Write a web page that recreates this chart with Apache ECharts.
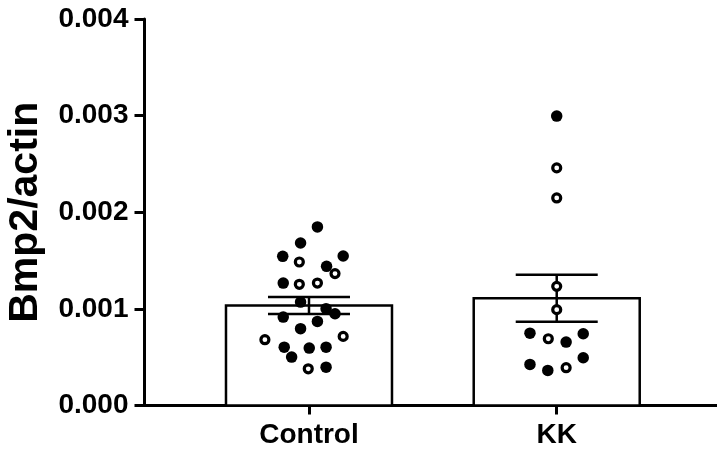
<!DOCTYPE html>
<html>
<head>
<meta charset="utf-8">
<script src="https://cdn.jsdelivr.net/npm/echarts@6/dist/echarts.min.js"></script>
<style>
  html, body { margin: 0; padding: 0; background: #fff; }
  #chart { width: 717px; height: 459px; }
</style>
</head>
<body>
<div id="chart"></div>
<script>
// groups on the x axis (position = index + 1)
var categories = ['Control', 'KK'];
var means = [0.001035, 0.00111];
var sems = [0.000087, 0.000242];

// individual points: [group index, horizontal jitter, value]
var filledPoints = [
  [0, 0.034, 0.001848], [0, -0.034, 0.001682], [0, -0.106, 0.001544], [0, 0.138, 0.001547],
  [0, 0.071, 0.00144], [0, -0.104, 0.001267], [0, -0.034, 0.00107], [0, 0.069, 0.001002],
  [0, 0.105, 0.00095], [0, -0.104, 0.000915], [0, 0.034, 0.00087], [0, -0.034, 0.000795],
  [0, -0.1, 0.000604], [0, 0.001, 0.000594], [0, 0.069, 0.000604], [0, -0.07, 0.000501],
  [0, 0.069, 0.000397],
  [1, 0, 0.002995], [1, -0.108, 0.000749], [1, 0.038, 0.000656], [1, 0.107, 0.000743],
  [1, -0.108, 0.000425], [1, -0.036, 0.000363], [1, 0.107, 0.000494]
];
var openPoints = [
  [0, -0.039, 0.001485], [0, 0.105, 0.001365], [0, -0.039, 0.001254], [0, 0.034, 0.001267],
  [0, -0.178, 0.000681], [0, 0.138, 0.000715], [0, -0.003, 0.00038],
  [1, 0, 0.002459], [1, 0, 0.002148], [1, 0, 0.001233], [1, 0, 0.000992],
  [1, -0.034, 0.000691], [1, 0.038, 0.000391]
];
var yTicks = [0, 0.001, 0.002, 0.003, 0.004];

function toXY(list) {
  return list.map(function (p) { return [p[0] + 1 + p[1], p[2]]; });
}

var barData = means.map(function (m, i) { return [i + 1, m]; });
var errData = means.map(function (m, i) { return [i + 1, m - sems[i], m + sems[i]]; });

var myChart = echarts.init(document.getElementById('chart'));
var font = '"Liberation Sans", Arial, sans-serif';
var option = {
  animation: false,
  backgroundColor: '#fff',
  grid: { left: 144.5, right: 0, top: 19, bottom: 53.5, containLabel: false, outerBoundsMode: 'none' },
  xAxis: {
    type: 'value',
    min: 0.336,
    max: 2.647,
    splitLine: { show: false },
    axisLine: { onZero: false, lineStyle: { color: '#000', width: 3 } },
    axisTick: { customValues: [1, 2], length: 9, lineStyle: { color: '#000', width: 3 } },
    axisLabel: {
      customValues: [1, 2],
      formatter: function (v) { return categories[Math.round(v) - 1] || ''; },
      color: '#000', fontFamily: font, fontWeight: 'bold', fontSize: 28, margin: 16
    }
  },
  yAxis: {
    type: 'value',
    min: yTicks[0],
    max: yTicks[yTicks.length - 1],
    interval: 0.001,
    name: 'Bmp2/actin',
    nameLocation: 'middle',
    nameRotate: 90,
    nameGap: 98,
    nameTextStyle: { color: '#000', fontFamily: font, fontWeight: 'bold', fontSize: 41 },
    splitLine: { show: false },
    axisLine: { onZero: false, lineStyle: { color: '#000', width: 3 } },
    axisTick: { length: 10, lineStyle: { color: '#000', width: 3 } },
    axisLabel: {
      formatter: function (v) { return v.toFixed(3); },
      color: '#000', fontFamily: font, fontWeight: 'bold', fontSize: 28, margin: 16
    }
  },
  series: [
    {
      type: 'custom',
      data: barData,
      z: 1,
      renderItem: function (params, api) {
        var top = api.coord([api.value(0), api.value(1)]);
        var base = api.coord([api.value(0), 0]);
        return {
          type: 'rect',
          shape: { x: top[0] - 83, y: top[1], width: 166, height: base[1] - top[1] },
          style: { fill: '#fff', stroke: '#000', lineWidth: 2.5 }
        };
      }
    },
    {
      type: 'custom',
      data: errData,
      z: 3,
      renderItem: function (params, api) {
        var lo = api.coord([api.value(0), api.value(1)]);
        var hi = api.coord([api.value(0), api.value(2)]);
        var st = { stroke: '#000', lineWidth: 2.5 };
        return {
          type: 'group',
          children: [
            { type: 'line', shape: { x1: lo[0], y1: lo[1], x2: hi[0], y2: hi[1] }, style: st },
            { type: 'line', shape: { x1: hi[0] - 41, y1: hi[1], x2: hi[0] + 41, y2: hi[1] }, style: st },
            { type: 'line', shape: { x1: lo[0] - 41, y1: lo[1], x2: lo[0] + 41, y2: lo[1] }, style: st }
          ]
        };
      }
    },
    {
      type: 'scatter',
      data: toXY(filledPoints),
      z: 4,
      symbol: 'circle',
      symbolSize: 11.5,
      itemStyle: { color: '#000', opacity: 1 }
    },
    {
      type: 'scatter',
      data: toXY(openPoints),
      z: 4,
      symbol: 'circle',
      symbolSize: 8,
      itemStyle: { color: '#fff', borderColor: '#000', borderWidth: 3.2, opacity: 1 }
    }
  ]
};
myChart.setOption(option);
</script>
</body>
</html>
